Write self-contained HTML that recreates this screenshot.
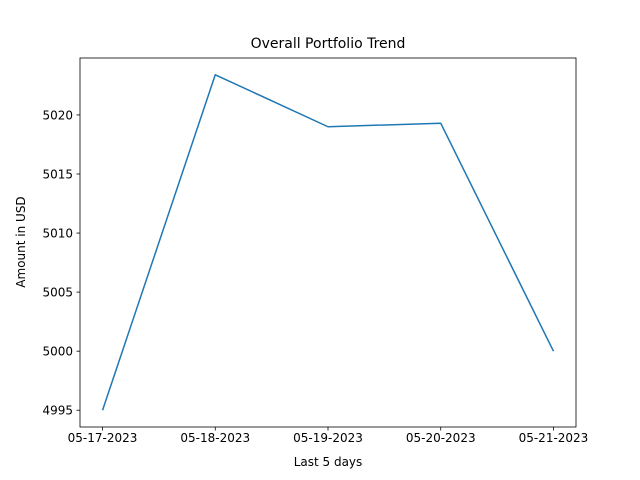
<!DOCTYPE html>
<html><head><meta charset="utf-8"><style>
body{margin:0;background:#fff}
svg{display:block;font-family:"DejaVu Sans","Liberation Sans",sans-serif}
</style></head><body>
<svg id="chart" width="640" height="480">
<rect width="640" height="480" fill="#fff"/>
<text x="328" y="48" text-anchor="middle" font-size="14">Overall Portfolio Trend</text>
<text x="328" y="466" text-anchor="middle" font-size="12">Last 5 days</text>
<text x="25" y="242" text-anchor="middle" font-size="12" transform="rotate(-90 25 242)">Amount in USD</text>
<g id="ticks"></g>
<path id="line" fill="none" stroke="#1f77b4" stroke-width="1.5" stroke-linejoin="round"/>
<rect x="80" y="58" width="496" height="369" fill="none" stroke="#000" stroke-width="0.8"/>
</svg>
<script>
const categories = ["05-17-2023","05-18-2023","05-19-2023","05-20-2023","05-21-2023"];
const values = [4995, 5023.4, 5019.0, 5019.3, 5000];
const yTicks = [4995, 5000, 5005, 5010, 5015, 5020];
const L=80,R=576,T=58,B=427;
const vmin=Math.min(...values), vmax=Math.max(...values), pad=(vmax-vmin)*0.05;
const y0=vmin-pad, y1=vmax+pad;
function x(i){return L+(R-L)*0.045454545 + i*((R-L)*0.909090909/(categories.length-1));}
function y(v){return B-(v-y0)/(y1-y0)*(B-T);}
const NS="http://www.w3.org/2000/svg";
const g=document.getElementById('ticks');
function mk(tag,attrs,txt){const e=document.createElementNS(NS,tag);for(const k in attrs)e.setAttribute(k,attrs[k]);if(txt!==undefined)e.textContent=txt;g.appendChild(e);return e;}
categories.forEach((c,i)=>{
  const t=mk('line',{x1:x(i),x2:x(i),y1:B,y2:B+3.5,stroke:'#000','stroke-width':0.8});
  
  
  const l=mk('text',{x:x(i),y:B+15,'text-anchor':'middle','font-size':12},c);
  
  
});
yTicks.forEach(v=>{
  const t=mk('line',{x1:L-3.5,x2:L,y1:y(v),y2:y(v),stroke:'#000','stroke-width':0.8});
  
  
  const l=mk('text',{x:L-7,y:y(v)+4.5,'text-anchor':'end','font-size':12},String(v));
  
  
});
document.getElementById('line').setAttribute('d',values.map((v,i)=>(i?'L':'M')+x(i)+' '+y(v)).join(' '));
</script>
</body></html>
